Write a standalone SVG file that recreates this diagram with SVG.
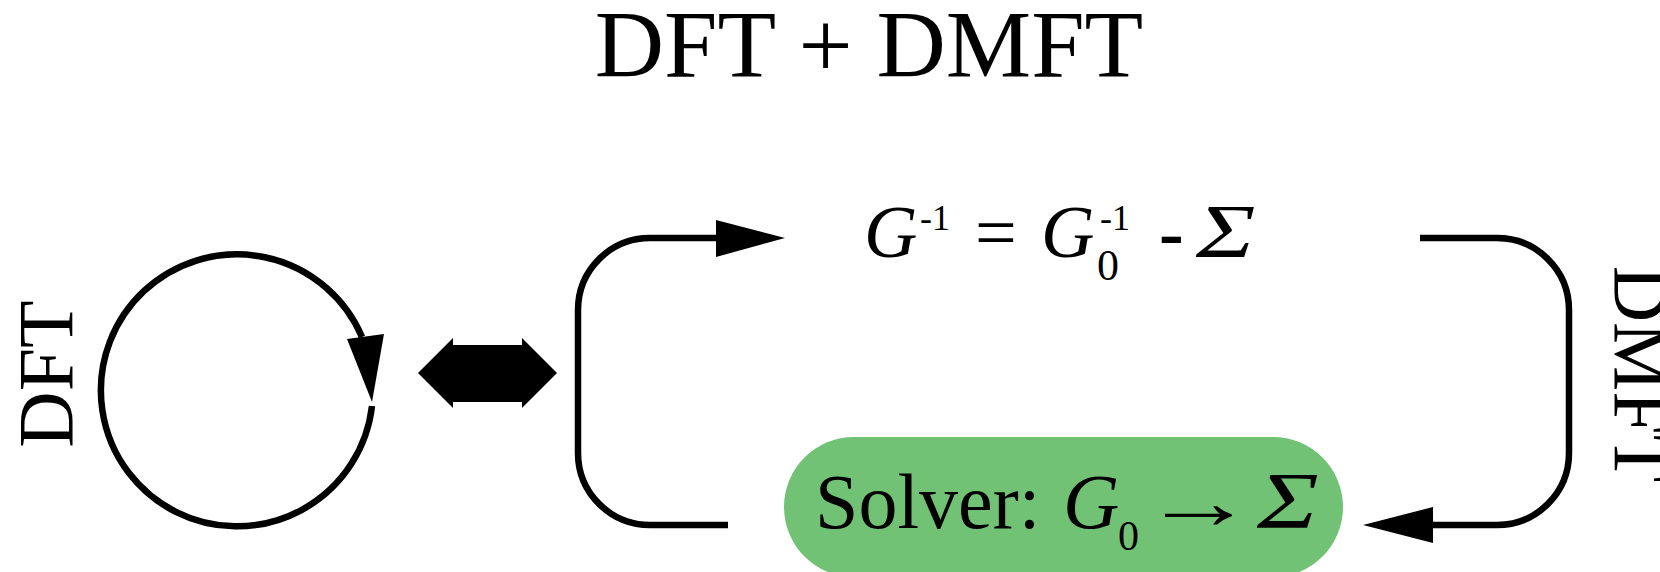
<svg xmlns="http://www.w3.org/2000/svg" width="1660" height="572" viewBox="0 0 1660 572">
<style>
text{font-family:"Liberation Serif","Times New Roman",serif;fill:#000}
.it{font-style:italic}
.ln{fill:none;stroke:#000;stroke-width:6.5}
.ah{fill:#000;stroke:none}
</style>
<rect width="1660" height="572" fill="#fff"/>
<g id="title"><text x="869" y="77" font-size="96" text-anchor="middle">DFT + DMFT</text></g>
<g id="dft-label"><text transform="translate(72,374) rotate(-90)" font-size="78" text-anchor="middle">DFT</text></g>
<g id="dmft-label"><text transform="translate(1615,374) rotate(90)" font-size="78" text-anchor="middle">DMFT</text></g>
<g id="dft-loop">
<path class="ln" d="M372 406 A136 136 0 1 1 362 337"/>
<polygon class="ah" points="347,339 384,334 372,402"/>
</g>
<g id="coupling"><polygon class="ah" points="418,373 453,338 453,345 522,345 522,338 557,373 522,408 522,402 453,402 453,408"/></g>
<g id="dyson">
<text class="it" x="864" y="257" font-size="74">G</text>
<text x="920" y="230" font-size="36">-1</text>
<text x="975" y="257" font-size="74">=</text>
<text class="it" x="1041" y="257" font-size="74">G</text>
<text x="1100" y="230" font-size="36">-1</text>
<text x="1097" y="280" font-size="44">0</text>
<text x="1159" y="257" font-size="74" font-weight="bold">-</text>
<text class="it" transform="translate(1196,257) scale(1.3,1)" font-size="77">Σ</text>
</g>
<g id="solver">
<rect x="784" y="437" width="559" height="140" rx="70" fill="#72c275"/>
<text x="815" y="528" font-size="78">Solver:</text>
<text class="it" x="1063" y="528" font-size="78">G</text>
<text x="1118" y="550" font-size="42">0</text>
<text transform="translate(1142,528) scale(1.45,1)" font-size="78">→</text>
<text class="it" transform="translate(1257,528) scale(1.3,1)" font-size="80">Σ</text>
</g>
<g id="connectors">
<path class="ln" d="M728 525 H650 A72 72 0 0 1 578 453 V310 A72 72 0 0 1 650 238 H720"/>
<polygon class="ah" points="716,220 716,257 785,238"/>
<path class="ln" d="M1420 238 H1497 A72 72 0 0 1 1569 310 V453 A72 72 0 0 1 1497 525 H1430"/>
<polygon class="ah" points="1433,507 1433,543 1363,525"/>
</g>
</svg>
